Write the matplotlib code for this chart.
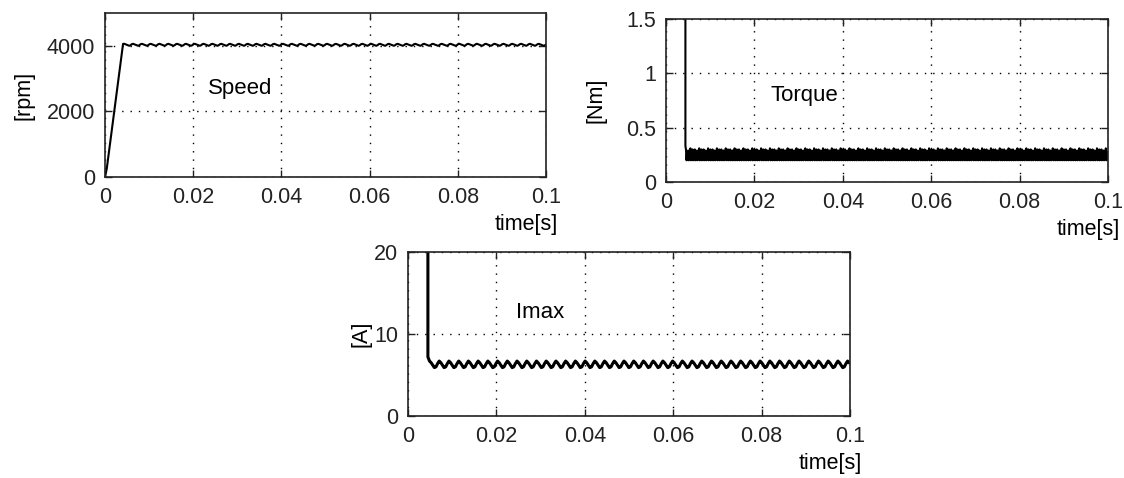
import numpy as np
import matplotlib
matplotlib.use('Agg')
import matplotlib.pyplot as plt

plt.rcParams['font.family'] = ['Liberation Sans', 'DejaVu Sans']
plt.rcParams['font.size'] = 15.5

# x axis
x_ticks = [0, 0.02, 0.04, 0.06, 0.08, 0.1]
x_labels = ['0', '0.02', '0.04', '0.06', '0.08', '0.1']

# speed: start-up ramp, then one ripple period repeated
speed_start_t = [0.0, 0.0004, 0.0041]
speed_start_v = [0, 250, 4060]
speed_ripple = [4060, 4045, 4030, 4015, 4000, 4020, 4050]
speed_period = 0.002
speed_yticks = [0, 2000, 4000]
speed_ylabels = ['0', '2000', '4000']

# torque: high during start-up, then dense ripple band
torque_start_t = [0.0, 0.0044, 0.0044]
torque_start_v = [2.5, 2.5, 0.33]
torque_ripple = [0.30, 0.20, 0.27, 0.21, 0.29, 0.20, 0.26, 0.22,
                 0.31, 0.20, 0.28, 0.21, 0.30, 0.20, 0.25, 0.21]
torque_period = 0.002
torque_yticks = [0, 0.5, 1, 1.5]
torque_ylabels = ['0', '0.5', '1', '1.5']

# current (Imax)
imax_start_t = [0.0, 0.0045, 0.0045]
imax_start_v = [30, 30, 7.2]
imax_ripple = [6.7, 6.5, 6.2, 5.9, 6.0, 6.4]
imax_period = 0.0022
imax_yticks = [0, 10, 20]
imax_ylabels = ['0', '10', '20']


def build(start_t, start_v, ripple, period, t_end=0.1):
    """start-up part followed by the repeated ripple pattern"""
    n = int(np.ceil((t_end - start_t[-1]) / period))
    step = period / len(ripple)
    t_r = start_t[-1] + step * np.arange(1, n * len(ripple) + 1)
    v_r = np.tile(ripple, n)
    t = np.concatenate([start_t, t_r])
    v = np.concatenate([start_v, v_r])
    keep = t <= t_end
    return t[keep], v[keep]


def style(ax, ylim, yticks, ylabels, ylab, ylab_x):
    ax.set_xlim(0, 0.1)
    ax.set_ylim(*ylim)
    ax.set_xticks(x_ticks)
    ax.set_xticklabels(x_labels)
    ax.set_yticks(yticks)
    ax.set_yticklabels(ylabels)
    ax.tick_params(direction='in', top=True, right=True, length=5,
                   width=1, pad=7, labelsize=15.5, colors='#222222')
    ax.grid(True, color='black', linestyle=(0, (1, 5)), linewidth=1.0)
    for s in ax.spines.values():
        s.set_linewidth(1.2)
        s.set_color('#222222')
    ax.set_ylabel(ylab, fontsize=15.5)
    ax.yaxis.set_label_coords(ylab_x, 0.5)
    ax.text(1.027, -0.29, 'time[s]', transform=ax.transAxes,
            ha='right', va='center', fontsize=15.5)


fig = plt.figure(figsize=(11.24, 4.78), dpi=100)

ax1 = fig.add_axes([0.0934, 0.6297, 0.3923, 0.3431])
t, v = build(speed_start_t, speed_start_v, speed_ripple, speed_period)
ax1.plot(t, v, color='black', linewidth=1.5)
style(ax1, (0, 5000), speed_yticks, speed_ylabels, '[rpm]', -0.159)
ax1.text(0.0306, 2700, 'Speed', ha='center', va='center', fontsize=16)

ax2 = fig.add_axes([0.5925, 0.6192, 0.3932, 0.3410])
t, v = build(torque_start_t, torque_start_v, torque_ripple, torque_period)
ax2.plot(t, v, color='black', linewidth=1.5)
style(ax2, (0, 1.5), torque_yticks, torque_ylabels, '[Nm]', -0.134)
ax2.text(0.0314, 0.80, 'Torque', ha='center', va='center', fontsize=16)

ax3 = fig.add_axes([0.3630, 0.1297, 0.3932, 0.3431])
t, v = build(imax_start_t, imax_start_v, imax_ripple, imax_period)
ax3.plot(t, v, color='black', linewidth=2.2)
style(ax3, (0, 20), imax_yticks, imax_ylabels, '[A]', -0.083)
ax3.text(0.0299, 12.6, 'Imax', ha='center', va='center', fontsize=16)

fig.savefig('out.png', dpi=100)
